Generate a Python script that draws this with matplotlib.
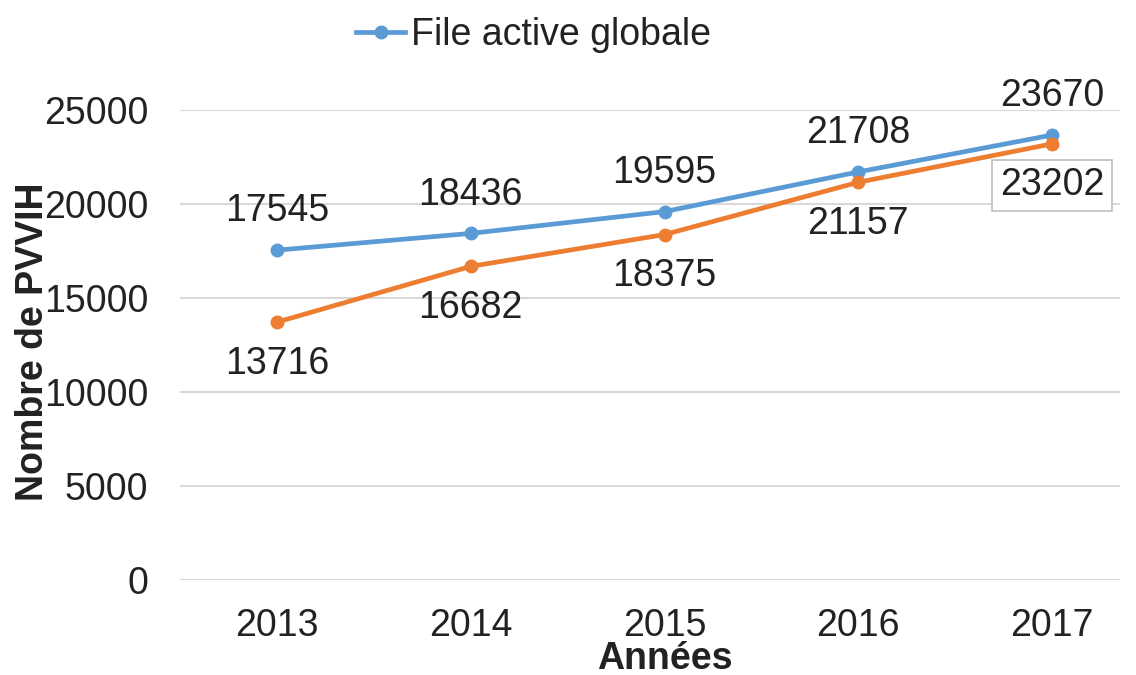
import matplotlib
matplotlib.use("Agg")
from matplotlib import pyplot as plt

plt.rcParams['font.family'] = ['Liberation Sans', 'DejaVu Sans']

# data
annees = [2013, 2014, 2015, 2016, 2017]
file_active = [17545, 18436, 19595, 21708, 23670]
autre_serie = [13716, 16682, 18375, 21157, 23202]
y_ticks = [0, 5000, 10000, 15000, 20000, 25000]

blue = '#5B9BD5'
orange = '#ED7D31'
txt = '#222222'
fs = 27

fig = plt.figure(figsize=(11.36, 6.75), dpi=100)
ax = fig.add_axes([180 / 1136, 95 / 675, 940 / 1136, 470 / 675])

ax.plot(annees, file_active, color=blue, lw=3.4, marker='o', ms=9,
        label='File active globale', clip_on=False, zorder=3)
ax.plot(annees, autre_serie, color=orange, lw=3.4, marker='o', ms=9,
        clip_on=False, zorder=3)

# data labels
for x, y in zip(annees, file_active):
    ax.annotate(str(y), (x, y), xytext=(0, 28), textcoords='offset points',
                ha='center', va='center', fontsize=fs, color=txt)
for i, (x, y) in enumerate(zip(annees, autre_serie)):
    box = None
    if i == len(annees) - 1:
        box = dict(boxstyle='square,pad=0.2', fc='white', ec='#BFBFBF', lw=1.2)
    ax.annotate(str(y), (x, y), xytext=(0, -30), textcoords='offset points',
                ha='center', va='center', fontsize=fs, color=txt, bbox=box)

ax.set_ylim(0, 25000)
ax.set_xlim(2012.5, 2017.35)
ax.set_yticks(y_ticks)
ax.set_xticks(annees)
ax.tick_params(length=0, labelsize=fs, labelcolor=txt)
ax.tick_params(axis='y', pad=23)
ax.tick_params(axis='x', pad=20)
ax.yaxis.grid(True, color='#D9D9D9', lw=1.5)
ax.set_axisbelow(True)
for s in ax.spines.values():
    s.set_visible(False)

fig.text(665 / 1136, 1 - 659 / 675, 'Années', fontsize=fs, fontweight='bold',
         color=txt, ha='center', va='center')
fig.text(33 / 1136, 1 - 342 / 675, 'Nombre de PVVIH', rotation=90, fontsize=fs,
         fontweight='bold', color=txt, ha='center', va='center')

ax.legend(loc='center left', bbox_to_anchor=(330 / 1136, 1 - 35 / 675),
          bbox_transform=fig.transFigure, frameon=False, fontsize=fs,
          handlelength=1.3, handletextpad=0.15, borderpad=0.2, labelcolor=txt)

fig.savefig('out.png', dpi=100)
